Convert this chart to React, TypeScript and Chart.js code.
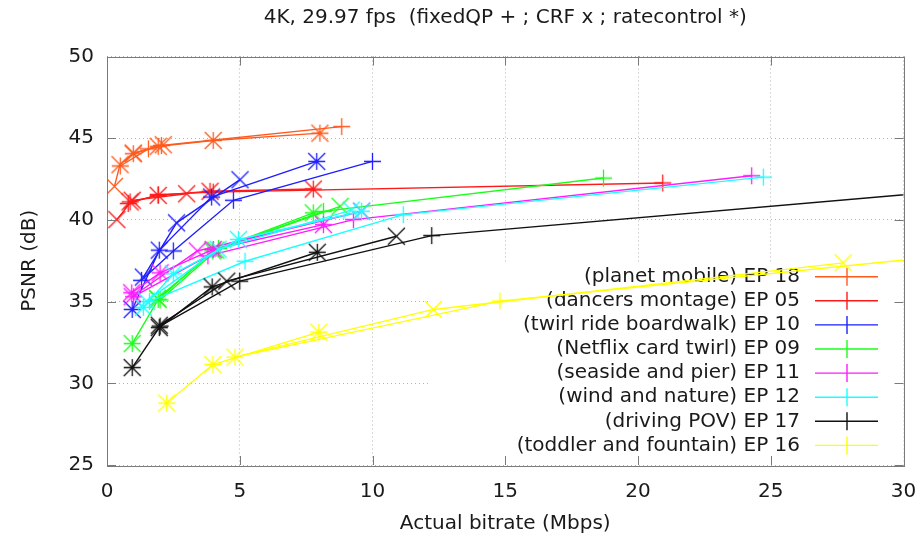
import React, { useEffect, useRef } from 'react';
import { Chart, registerables } from 'chart.js';

Chart.register(...registerables);

const FONT = '"DejaVu Sans", "Liberation Sans", sans-serif';

const TITLE = '4K, 29.97 fps  (fixedQP + ; CRF x ; ratecontrol *)';
const X_LABEL = 'Actual bitrate (Mbps)';
const Y_LABEL = 'PSNR (dB)';

const X_TICKS = [0, 5, 10, 15, 20, 25, 30];
const Y_TICKS = [25, 30, 35, 40, 45, 50];

const SEQUENCES = [
  '(planet mobile) EP 18',
  '(dancers montage) EP 05',
  '(twirl ride boardwalk) EP 10',
  '(Netflix card twirl) EP 09',
  '(seaside and pier) EP 11',
  '(wind and nature) EP 12',
  '(driving POV) EP 17',
  '(toddler and fountain) EP 16',
];

// [actual bitrate Mbps, PSNR dB]
const planetMobileQP = [[0.5, 43.3], [1.56, 44.35], [2.05, 44.55], [8.84, 45.71]];
const planetMobileCRF = [[0.28, 42.05], [0.49, 43.38], [0.99, 44.09], [2.12, 44.6]];
const planetMobileRC = [[0.99, 44.05], [1.93, 44.5], [4.0, 44.86], [8.02, 45.31]];

const dancersQP = [[0.8, 41.0], [1.93, 41.55], [4.0, 41.7], [20.93, 42.26]];
const dancersCRF = [[0.37, 40.02], [0.95, 41.2], [3.0, 41.6]];
const dancersRC = [[0.87, 41.1], [1.93, 41.5], [3.88, 41.75], [7.77, 41.89]];

const twirlRideQP = [[1.3, 36.3], [2.5, 38.1], [4.76, 41.2], [10.0, 43.58]];
const twirlRideCRF = [[1.37, 36.5], [2.62, 39.82], [5.01, 42.46]];
const twirlRideRC = [[0.95, 34.52], [1.97, 38.15], [3.94, 41.4], [7.9, 43.58]];

const netflixQP = [[2.0, 35.1], [4.2, 38.25], [8.15, 40.52], [18.7, 42.56]];
const netflixCRF = [[1.9, 35.2], [4.1, 38.15], [8.78, 40.83]];
const netflixRC = [[0.95, 32.43], [1.93, 35.13], [3.98, 38.1], [7.77, 40.43]];

const seasideQP = [[1.0, 35.3], [3.8, 37.8], [9.28, 40.02], [24.28, 42.7]];
const seasideCRF = [[0.95, 35.3], [3.4, 38.1], [9.59, 40.53]];
const seasideRC = [[0.93, 35.54], [2.0, 36.76], [4.0, 38.19], [8.15, 39.71]];

const windQP = [[1.6, 35.0], [5.2, 37.47], [11.16, 40.32], [24.72, 42.62]];
const windCRF = [[1.49, 35.03], [4.19, 38.2], [9.2, 40.6]];
const windRC = [[1.37, 34.65], [2.5, 36.7], [4.95, 38.8], [9.59, 40.53]];

const drivingQP = [[2.0, 33.5], [5.0, 36.25], [12.23, 39.04], [35.0, 42.24]];
const drivingCRF = [[1.97, 33.55], [4.51, 36.25], [10.9, 39.0]];
const drivingRC = [[0.95, 30.96], [1.97, 33.41], [3.96, 35.9], [7.92, 38.02]];

const toddlerQP = [[4.82, 31.6], [14.8, 35.03], [40.0, 39.2]];
const toddlerCRF = [[4.82, 31.6], [12.29, 34.52], [27.73, 37.37]];
const toddlerRC = [[2.25, 28.79], [3.99, 31.15], [7.98, 33.13]];

const SERIES = [
  [planetMobileQP, planetMobileCRF, planetMobileRC],
  [dancersQP, dancersCRF, dancersRC],
  [twirlRideQP, twirlRideCRF, twirlRideRC],
  [netflixQP, netflixCRF, netflixRC],
  [seasideQP, seasideCRF, seasideRC],
  [windQP, windCRF, windRC],
  [drivingQP, drivingCRF, drivingRC],
  [toddlerQP, toddlerCRF, toddlerRC],
];

const COLORS = ['#ff5a1e', '#ff1a1a', '#1f1fff', '#1aff1a', '#ff1aff', '#1affff', '#111111', '#ffff00'];
const MARKERS = ['+', 'x', '*'];

function makeMarker(kind: string, color: string, half: number) {
  const size = Math.ceil(half * 2 + 4);
  const c = document.createElement('canvas');
  c.width = size;
  c.height = size;
  const g = c.getContext('2d') as CanvasRenderingContext2D;
  g.strokeStyle = color;
  g.lineWidth = 1.3;
  const m = size / 2;
  g.beginPath();
  if (kind !== 'x') {
    g.moveTo(m - half, m); g.lineTo(m + half, m);
    g.moveTo(m, m - half); g.lineTo(m, m + half);
  }
  if (kind !== '+') {
    g.moveTo(m - half, m - half); g.lineTo(m + half, m + half);
    g.moveTo(m - half, m + half); g.lineTo(m + half, m - half);
  }
  g.stroke();
  return c;
}

const frame = {
  id: 'gnuframe',
  beforeDatasetsDraw(chart: any) {
    const { ctx, chartArea: a } = chart;
    // key box (opaque)
    const boxLeft = 430;
    const boxTop = 262;
    ctx.save();
    ctx.fillStyle = '#ffffff';
    ctx.fillRect(boxLeft, boxTop, a.right - boxLeft, a.bottom - boxTop);
    ctx.font = '20px ' + FONT;
    ctx.textAlign = 'right';
    ctx.textBaseline = 'middle';
    SEQUENCES.forEach((name, i) => {
      const y = 276.7 + i * 24.1;
      ctx.fillStyle = '#1a1a1a';
      ctx.fillText(name, 800, y);
      ctx.strokeStyle = COLORS[i];
      ctx.lineWidth = 1.4;
      ctx.beginPath();
      ctx.moveTo(815, y); ctx.lineTo(878, y);
      ctx.moveTo(847, y - 9); ctx.lineTo(847, y + 9);
      ctx.stroke();
    });
    ctx.restore();
  },
  afterDraw(chart: any) {
    const { ctx, chartArea: a, scales } = chart;
    ctx.save();
    ctx.strokeStyle = '#7a7a7a';
    ctx.lineWidth = 1;
    ctx.strokeRect(Math.round(a.left) + 0.5, Math.round(a.top) + 0.5, Math.round(a.right - a.left), Math.round(a.bottom - a.top));
    ctx.beginPath();
    const L = 9;
    X_TICKS.forEach((v) => {
      const x = Math.round(scales.x.getPixelForValue(v)) + 0.5;
      ctx.moveTo(x, a.bottom); ctx.lineTo(x, a.bottom - L);
      ctx.moveTo(x, a.top); ctx.lineTo(x, a.top + L);
    });
    Y_TICKS.forEach((v) => {
      const y = Math.round(scales.y.getPixelForValue(v)) + 0.5;
      ctx.moveTo(a.left, y); ctx.lineTo(a.left + L, y);
      ctx.moveTo(a.right, y); ctx.lineTo(a.right - L, y);
    });
    ctx.stroke();
    ctx.restore();
  },
};

export default function App() {
  const ref = useRef<HTMLCanvasElement>(null);

  useEffect(() => {
    if (!ref.current) return;
    const datasets: any[] = [];
    SERIES.forEach((group, si) => {
      group.forEach((pts, ci) => {
        datasets.push({
          label: SEQUENCES[si] + ' ' + MARKERS[ci],
          data: pts.map(([x, y]) => ({ x, y })),
          borderColor: COLORS[si],
          borderWidth: 1.4,
          tension: 0,
          fill: false,
          pointStyle: makeMarker(MARKERS[ci], COLORS[si], 8.5),
          pointRadius: 8,
          pointHoverRadius: 8,
        });
      });
    });
    datasets.reverse();

    const tickFont = { size: 20, family: FONT };
    const chart = new Chart(ref.current, {
      type: 'line',
      data: { datasets },
      plugins: [frame],
      options: {
        animation: false,
        responsive: false,
        events: [],
        layout: { padding: { left: 0, right: 17.5, top: 0, bottom: 0 } },
        plugins: {
          legend: { display: false },
          tooltip: { enabled: false },
          title: {
            display: true,
            text: TITLE,
            fullSize: false,
            color: '#1a1a1a',
            font: { size: 20, family: FONT, weight: 'normal' },
            padding: { top: 6, bottom: 26.5 },
          },
        },
        scales: {
          x: {
            type: 'linear',
            min: 0,
            max: 30,
            afterFit: (s: any) => { s.height = 74; s.paddingLeft = 0; s.paddingRight = 0; },
            afterBuildTicks: (s: any) => { s.ticks = X_TICKS.map((v) => ({ value: v })); },
            ticks: { padding: 15, color: '#1a1a1a', font: tickFont, maxRotation: 0, autoSkip: false },
            grid: { color: '#b4b4b4', lineWidth: 1, drawTicks: false },
            border: { display: false, dash: [1, 3] },
            title: { display: true, text: X_LABEL, color: '#1a1a1a', font: tickFont, padding: { top: 0, bottom: 3 } },
          },
          y: {
            type: 'linear',
            min: 25,
            max: 50,
            afterFit: (s: any) => { s.width = 107; s.paddingTop = 0; s.paddingBottom = 0; },
            afterBuildTicks: (s: any) => { s.ticks = Y_TICKS.map((v) => ({ value: v })); },
            ticks: { padding: 13, color: '#1a1a1a', font: tickFont, autoSkip: false },
            grid: { color: '#b4b4b4', lineWidth: 1, drawTicks: false },
            border: { display: false, dash: [1, 3] },
            title: { display: true, text: Y_LABEL, color: '#1a1a1a', font: tickFont, padding: { top: 18, bottom: 0 } },
          },
        },
      } as any,
    });
    return () => chart.destroy();
  }, []);

  return (
    <div style={{ position: 'absolute', left: 0, top: 0, width: 921, height: 539, background: '#fff' }}>
      <canvas ref={ref} width={921} height={539} style={{ display: 'block' }} />
    </div>
  );
}
